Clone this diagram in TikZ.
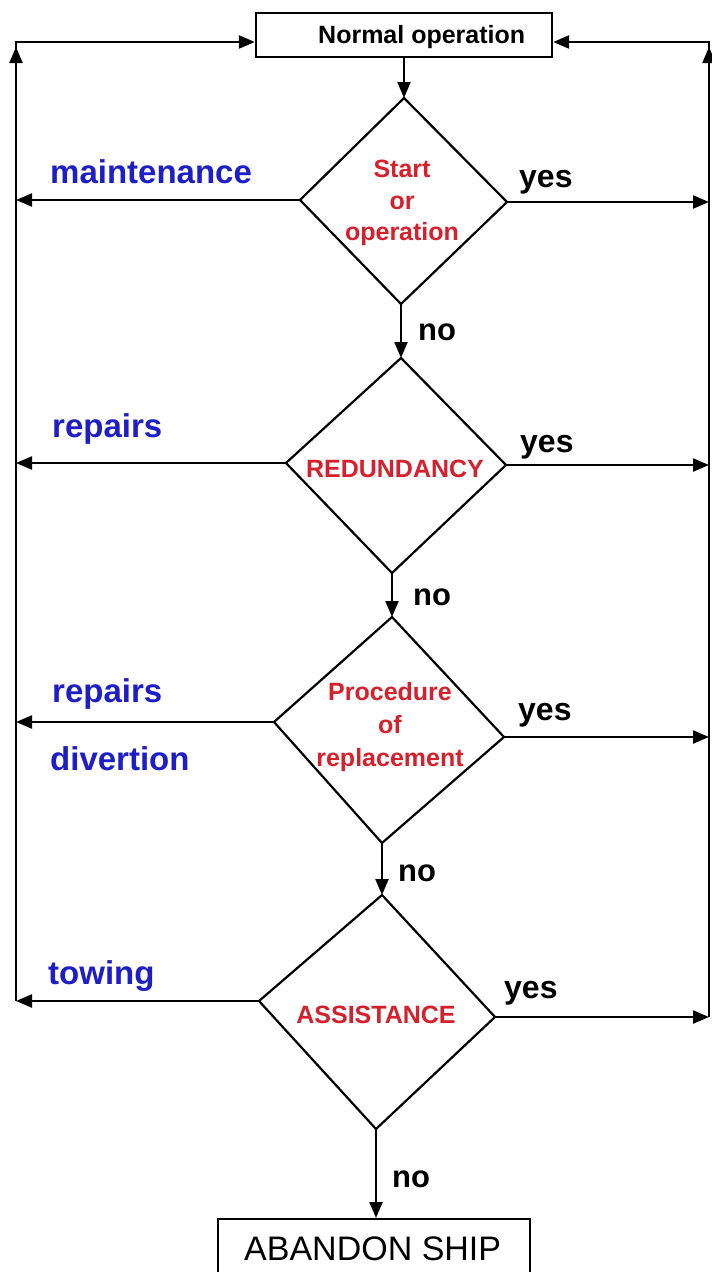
\documentclass[tikz,border=0pt]{standalone}
\usepackage{fontspec}
\setmainfont{Liberation Sans}
\usetikzlibrary{arrows.meta,calc}
\definecolor{lblblue}{RGB}{30,30,200}
\definecolor{qred}{RGB}{214,32,44}
\begin{document}
\begin{tikzpicture}[x=1pt,y=-1pt,
  conn/.style={line width=2.2pt},
  arr/.style={conn,-{Triangle[length=16pt,width=13pt]}},
  dia/.style={draw,line width=2.2pt,line join=miter},
  boxnode/.style={draw,line width=2.4pt,inner sep=0pt},
  lbl/.style={font=\fontsize{33}{38}\selectfont\bfseries,text=lblblue,inner sep=0pt,anchor=base west},
  ans/.style={font=\fontsize{32}{38}\selectfont\bfseries,text=black,inner sep=0pt,anchor=base west},
  nolbl/.style={font=\fontsize{31}{37}\selectfont\bfseries,text=black,inner sep=0pt,anchor=base west},
  qtxt/.style={font=\fontsize{25}{30}\selectfont\bfseries,text=qred,inner sep=0pt,anchor=base},
]
\useasboundingbox (0,0) rectangle (712,1272);
\clip (0,0) rectangle (712,1272);
\fill[white] (0,0) rectangle (712,1272);

% start and end boxes
\node[boxnode,minimum width=296pt,minimum height=44pt] (top) at (404,35) {};
\node[font=\fontsize{25}{30}\selectfont\bfseries,inner sep=0pt,anchor=base west] (toptxt) at (318,43) {Normal operation};
\node[boxnode,minimum width=312pt,minimum height=100pt,anchor=north] (ab) at (374,1218) {};
\node[font=\fontsize{34}{40}\selectfont,inner sep=0pt,anchor=base west] (abtxt) at (244,1260) {ABANDON SHIP};

% corners of the return loops
\coordinate (lx) at (16,42);
\coordinate (rx) at (709,42);

% decision diamonds: top, right, bottom, left vertices
\coordinate (d1t) at (404,98);  \coordinate (d1r) at (507,202);
\coordinate (d1b) at (401,304); \coordinate (d1l) at (300,200);
\coordinate (d2t) at (401,358); \coordinate (d2r) at (506,465);
\coordinate (d2b) at (392,573); \coordinate (d2l) at (286,463);
\coordinate (d3t) at (392,617); \coordinate (d3r) at (504,737);
\coordinate (d3b) at (382,843); \coordinate (d3l) at (274,722);
\coordinate (d4t) at (382,895); \coordinate (d4r) at (495,1017);
\coordinate (d4b) at (376,1129); \coordinate (d4l) at (259,1001);

\draw[dia] (d1t) -- (d1r) -- (d1b) -- (d1l) -- cycle;
\draw[dia] (d2t) -- (d2r) -- (d2b) -- (d2l) -- cycle;
\draw[dia] (d3t) -- (d3r) -- (d3b) -- (d3l) -- cycle;
\draw[dia] (d4t) -- (d4r) -- (d4b) -- (d4l) -- cycle;

% diamond texts
\node[qtxt] (q1a) at (402,177) {Start};
\node[qtxt] (q1b) at (402,209) {or};
\node[qtxt] (q1c) at (402,240) {operation};
\node[qtxt] (q2) at (395,477) {REDUNDANCY};
\node[qtxt] (q3a) at (390,700) {Procedure};
\node[qtxt] (q3b) at (390,733) {of};
\node[qtxt] (q3c) at (390,766) {replacement};
\node[qtxt] (q4) at (376,1023) {ASSISTANCE};

% main "no" chain
\draw[arr] (top.south) -- (d1t);
\draw[arr] (d1b) -- (d2t);
\draw[arr] (d2b) -- (d3t);
\draw[arr] (d3b) -- (d4t);
\draw[arr] (d4b) -- (d4b |- ab.north);

% left exits
\draw[arr] (d1l) -- (d1l -| lx);
\draw[arr] (d2l) -- (d2l -| lx);
\draw[arr] (d3l) -- (d3l -| lx);
\draw[arr] (d4l) -- (d4l -| lx);
% right exits
\draw[arr] (d1r) -- (d1r -| rx);
\draw[arr] (d2r) -- (d2r -| rx);
\draw[arr] (d3r) -- (d3r -| rx);
\draw[arr] (d4r) -- (d4r -| rx);

% return loops to normal operation
\coordinate (lb) at (d4l -| lx);
\coordinate (rb) at (d4r -| rx);
\draw[arr] (lb) -- ($(lx)+(0,5)$);
\draw[arr] ($(lx)+(0,8)$) -- (lx) -- (lx -| top.west);
\draw[arr] (rb) -- ($(rx)+(0,5)$);
\draw[arr] ($(rx)+(0,8)$) -- (rx) -- (rx -| top.east);

% branch labels
\node[lbl] (m1) at (50,183) {maintenance};
\node[lbl] (m2) at (52,437) {repairs};
\node[lbl] (m3) at (52,702) {repairs};
\node[lbl] (m4) at (50,770) {divertion};
\node[lbl] (m5) at (48,984) {towing};
\node[ans] (y1) at (519,187) {yes};
\node[ans] (y2) at (520,452) {yes};
\node[ans] (y3) at (518,720) {yes};
\node[ans] (y4) at (504,998) {yes};
\node[nolbl] (n1) at (418,340) {no};
\node[nolbl] (n2) at (413,605) {no};
\node[nolbl] (n3) at (398,881) {no};
\node[nolbl] (n4) at (392,1187) {no};
\end{tikzpicture}
\end{document}
